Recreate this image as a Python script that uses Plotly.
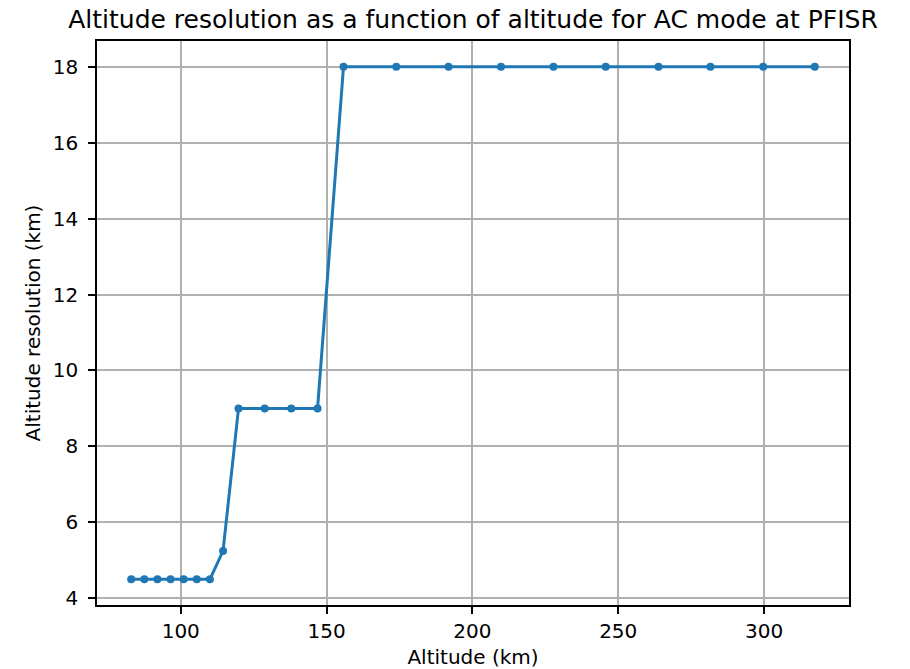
import plotly.graph_objects as go

altitude_km = [83.0, 87.5, 92.0, 96.5, 101.0, 105.5, 110.0, 114.5, 119.8, 128.8,
               137.9, 146.9, 155.8, 173.9, 191.8, 209.8, 227.8, 245.7, 263.8,
               281.6, 299.7, 317.4]
resolution_km = [4.5, 4.5, 4.5, 4.5, 4.5, 4.5, 4.5, 5.25, 9.0, 9.0, 9.0, 9.0,
                 18.0, 18.0, 18.0, 18.0, 18.0, 18.0, 18.0, 18.0, 18.0, 18.0]
x_ticks = [100, 150, 200, 250, 300]
y_ticks = [4, 6, 8, 10, 12, 14, 16, 18]

title_text = "Altitude resolution as a function of altitude for AC mode at PFISR"
x_label = "Altitude (km)"
y_label = "Altitude resolution (km)"

xmin, xmax = min(altitude_km), max(altitude_km)
ymin, ymax = min(resolution_km), max(resolution_km)
xm = 0.05 * (xmax - xmin)
ym = 0.05 * (ymax - ymin)

fig = go.Figure()
fig.add_trace(go.Scatter(
    x=altitude_km, y=resolution_km, mode="lines+markers",
    line=dict(color="#1f77b4", width=3),
    marker=dict(color="#1f77b4", size=8),
    showlegend=False,
))

axis_common = dict(
    showline=True, mirror=True, linecolor="black", linewidth=1.6,
    ticks="outside", ticklen=7, tickwidth=1.6, tickcolor="black",
    showgrid=True, gridcolor="#b0b0b0", gridwidth=1.6, zeroline=False,
    tickfont=dict(family="DejaVu Sans", size=20, color="black"),
    automargin=False,
)

fig.update_layout(
    width=910, height=669,
    margin=dict(l=97, r=61, t=41, b=64),
    paper_bgcolor="white", plot_bgcolor="white",
    font=dict(family="DejaVu Sans", color="black"),
    title=dict(text=title_text, x=0.5, xref="paper", xanchor="center",
               y=1, yref="paper", yanchor="bottom", pad=dict(b=13),
               font=dict(family="DejaVu Sans", size=25, color="black")),
    xaxis=dict(range=[xmin - xm, xmax + xm], tickvals=x_ticks,
               title=dict(text=x_label, standoff=12,
                          font=dict(family="DejaVu Sans", size=20, color="black")),
               **axis_common),
    yaxis=dict(range=[ymin - ym, ymax + ym], tickvals=y_ticks,
               ticklabelstandoff=6,
               title=dict(text=y_label, standoff=7,
                          font=dict(family="DejaVu Sans", size=20, color="black")),
               **axis_common),
)

fig.write_html("out.html",
               config={"displayModeBar": False},
               post_script="document.body.style.margin='0';document.body.style.overflow='hidden';")
